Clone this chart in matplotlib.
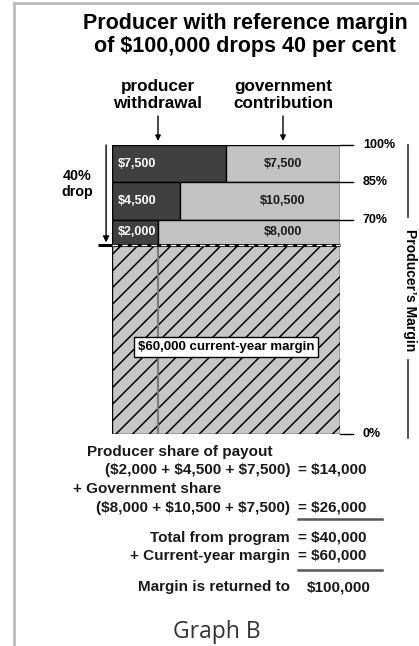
import numpy as np
import matplotlib
matplotlib.use("Agg")
import matplotlib.pyplot as plt
from matplotlib.lines import Line2D

plt.rcParams["font.family"] = ["Liberation Sans", "DejaVu Sans"]
plt.rcParams["hatch.linewidth"] = 1.1

# --- data -------------------------------------------------------------
levels = [100, 85, 70, 60]            # per cent of reference margin
producer = [7500, 4500, 2000]         # producer withdrawal per tier
government = [7500, 10500, 8000]      # government contribution per tier
reference_margin = 100000
current_margin = 60000
tick_levels = [100, 85, 70, 0]

DARK = "#404040"
LIGHT = "#c2c2c2"
HATCH_BG = "#c6c6c6"

W, H = 419, 646
fig = plt.figure(figsize=(W / 100, H / 100), dpi=100)


def fx(px):
    return px / W


def fy(py):
    return 1 - py / H


# piecewise scale: top tiers are drawn a bit taller than the margin block
def fwd(y):
    y = np.asarray(y, dtype=float)
    return np.where(y < 60, y * 65.4 / 60, 65.4 + (y - 60) * 34.6 / 40)


def inv(v):
    v = np.asarray(v, dtype=float)
    return np.where(v < 65.4, v * 60 / 65.4, 60 + (v - 65.4) * 40 / 34.6)


ax = fig.add_axes([fx(112), fy(434), (340 - 112) / W, (434 - 145) / H])
ax.set_yscale("function", functions=(fwd, inv))
ax.set_xlim(0, 1)
ax.set_ylim(0, 100)
ax.axis("off")

# payout tiers
for i in range(len(producer)):
    top, bot = levels[i], levels[i + 1]
    frac = producer[i] / (producer[i] + government[i])
    mid = (top + bot) / 2
    ax.barh(bot, frac, height=top - bot, left=0, align="edge",
            color=DARK, edgecolor="black", lw=1)
    ax.barh(bot, 1 - frac, height=top - bot, left=frac, align="edge",
            color=LIGHT, edgecolor="black", lw=1)
    ax.text(0.025, mid, f"${producer[i]:,}", color="white", ha="left",
            va="center", fontsize=9, fontweight="bold")
    ax.text(0.75, mid, f"${government[i]:,}", color="#1a1a1a", ha="center",
            va="center", fontsize=9, fontweight="bold")

# current-year margin block
cur_pct = current_margin / reference_margin * 100
ax.barh(0, 1, height=cur_pct, left=0, align="edge", facecolor=HATCH_BG,
        edgecolor="black", hatch="//", lw=1)
last_frac = producer[-1] / (producer[-1] + government[-1])
ax.plot([last_frac, last_frac], [0, cur_pct], color="#7a7a7a", lw=1.5)
ax.plot([-0.061, 1], [cur_pct, cur_pct], color="black", lw=2.2,
        clip_on=False, solid_capstyle="butt")
ax.plot([0, 1], [cur_pct, cur_pct], color="white", lw=1,
        ls=(0, (4, 3)))
ax.text(0.5, 0.30, f"${current_margin:,} current-year margin",
        transform=ax.transAxes, ha="center", va="center", fontsize=9.5,
        fontweight="bold",
        bbox=dict(boxstyle="square,pad=0.3", facecolor="white",
                  edgecolor="black", lw=1))

# percentage ticks
for lev in tick_levels:
    ax.plot([1, 1.057], [lev, lev], color="black", lw=1, clip_on=False)
    ax.text(1.10, lev, f"{lev}%", ha="left", va="center", fontsize=9,
            fontweight="bold", clip_on=False)

# 40% drop arrow
ax.annotate("", xy=(-0.026, cur_pct + 1), xytext=(-0.026, 100),
            arrowprops=dict(arrowstyle="-|>", color="black", lw=1,
                            mutation_scale=9, shrinkA=0, shrinkB=0),
            annotation_clip=False)
fig.text(fx(77), fy(184), "40%\ndrop", ha="center", va="center",
         fontsize=10.3, fontweight="bold", linespacing=1.1)

# headers
fig.text(fx(245), fy(35), "Producer with reference margin\nof $100,000 drops 40 per cent",
         ha="center", va="center", fontsize=15.5, fontweight="bold",
         linespacing=1.1)
fig.text(fx(158), fy(95), "producer\nwithdrawal", ha="center", va="center",
         fontsize=12.3, fontweight="bold", linespacing=1.1)
fig.text(fx(283), fy(95), "government\ncontribution", ha="center",
         va="center", fontsize=12.3, fontweight="bold", linespacing=1.1)
for xp in (158, 283):
    fig.add_artist(plt.Annotation(
        "", xy=(fx(xp), fy(141)), xytext=(fx(xp), fy(116)),
        xycoords="figure fraction", textcoords="figure fraction",
        arrowprops=dict(arrowstyle="-|>", color="black", lw=1,
                        mutation_scale=8, shrinkA=0, shrinkB=0)))

# Producer's Margin bracket
fig.text(fx(410), fy(290), "Producer\u2019s Margin", rotation=270,
         ha="center", va="center", fontsize=10, fontweight="bold")
for y0, y1 in ((145, 217), (360, 438)):
    fig.add_artist(Line2D([fx(408), fx(408)], [fy(y0), fy(y1)],
                          color="#444444", lw=1.3))

# arithmetic below the chart
prod_total = sum(producer)
gov_total = sum(government)
program_total = prod_total + gov_total
kw = dict(fontsize=11, fontweight="bold", va="center", color="#1a1a1a")
fig.text(fx(87), fy(452), "Producer share of payout", ha="left", **kw)
fig.text(fx(290), fy(470),
         "(" + " + ".join(f"${v:,}" for v in producer[::-1]) + ")",
         ha="right", **kw)
fig.text(fx(298), fy(470), f"= ${prod_total:,}", ha="left", **kw)
fig.text(fx(73), fy(489), "+ Government share", ha="left", **kw)
fig.text(fx(290), fy(508),
         "(" + " + ".join(f"${v:,}" for v in government[::-1]) + ")",
         ha="right", **kw)
fig.text(fx(298), fy(508), f"= ${gov_total:,}", ha="left", **kw)
fig.text(fx(290), fy(538), "Total from program", ha="right", **kw)
fig.text(fx(298), fy(538), f"= ${program_total:,}", ha="left", **kw)
fig.text(fx(290), fy(556), "+ Current-year margin", ha="right", **kw)
fig.text(fx(298), fy(556), f"= ${current_margin:,}", ha="left", **kw)
fig.text(fx(290), fy(587), "Margin is returned to", ha="right", **kw)
fig.text(fx(307), fy(587), f"${program_total + current_margin:,}",
         ha="left", **kw)
for yp in (519, 570):
    fig.add_artist(Line2D([fx(298), fx(382)], [fy(yp), fy(yp)],
                          color="#555555", lw=1.8))

fig.text(fx(217), fy(632), "Graph B", ha="center", va="center",
         fontsize=16.5, family="Open Sans", color="#333333")

# page frame
fig.add_artist(Line2D([fx(14), fx(14)], [fy(3), 0], color="#bbbbbb", lw=2))
fig.add_artist(Line2D([fx(14), 1], [fy(3), fy(3)], color="#bbbbbb", lw=2))

fig.savefig("out.png", dpi=100, facecolor="white")
